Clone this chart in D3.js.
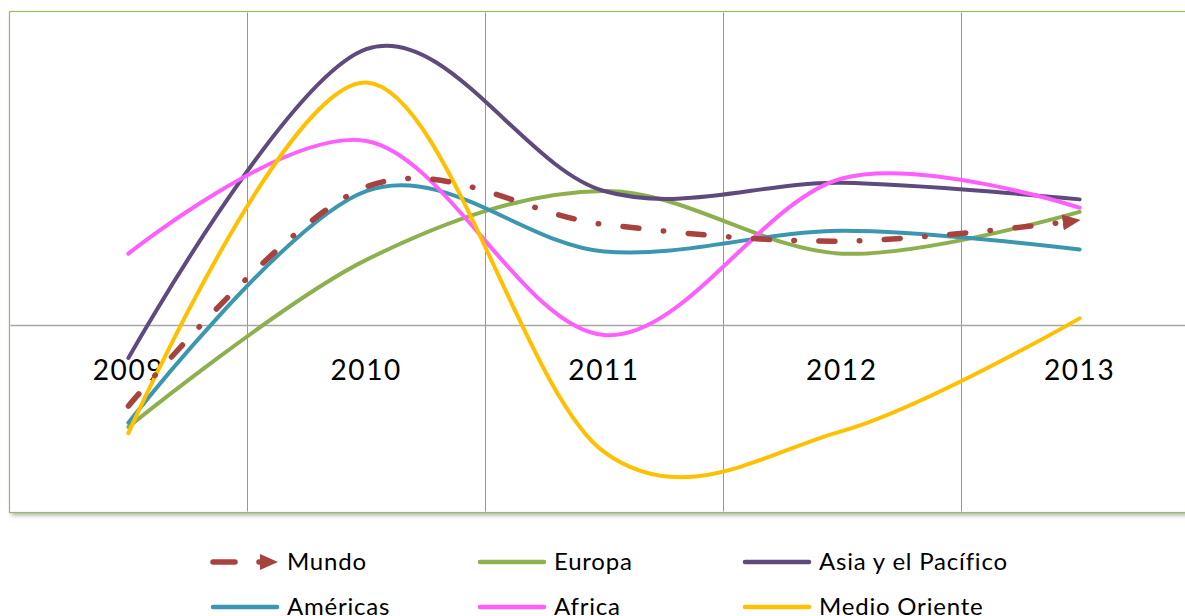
<!DOCTYPE html>
<html>
<head>
<meta charset="utf-8">
<script src="https://cdn.jsdelivr.net/npm/d3@7"></script>
<style>
  body { margin: 0; background: #fff; }
  text { font-family: Lato, "Open Sans", sans-serif; fill: #000; }
</style>
</head>
<body>
<svg id="chart" width="1185" height="616"></svg>
<script>
// categories
const years = ['2009', '2010', '2011', '2012', '2013'];

// series values (growth, %)
const mundo     = [-3.9, 6.6, 4.8, 4.0, 5.0];
const europa    = [-4.9, 3.1, 6.4, 3.4, 5.4];
const asia      = [-1.6, 13.2, 6.4, 6.8, 6.0];
const americas  = [-4.7, 6.4, 3.5, 4.5, 3.6];
const africa    = [3.4, 8.8, -0.5, 7.0, 5.6];
const medio     = [-5.2, 11.6, -6.1, -5.1, 0.3];

const seriesNames = ['Mundo', 'Europa', 'Asia y el Pacífico', 'Américas', 'Africa', 'Medio Oriente'];
const seriesData = [mundo, europa, asia, americas, africa, medio];
const seriesColors = ['#A8423F', '#8DB04F', '#5E4A7C', '#3A97AF', '#FF5EFF', '#FFC000'];

const svg = d3.select('#chart');

const plot = { left: 9.5, right: 1198.5, top: 11.5, bottom: 512.5 };

let x = d3.scaleBand()
    .domain(years)
    .range([plot.left, plot.right]);

let y = d3.scaleLinear()
    .domain([-9, 15])
    .range([plot.bottom, plot.top]);

const cx = d => x(d) + x.bandwidth() / 2;

// shadow for the plot frame
const defs = svg.append('defs');
const shadow = defs.append('filter')
    .attr('id', 'shadow')
    .attr('x', '-5%').attr('y', '-5%')
    .attr('width', '110%').attr('height', '110%');
shadow.append('feGaussianBlur')
    .attr('stdDeviation', 2);

// arrow for the Mundo series
defs.append('marker')
    .attr('id', 'arrow')
    .attr('markerUnits', 'userSpaceOnUse')
    .attr('viewBox', '0 0 18 16')
    .attr('refX', 17).attr('refY', 8)
    .attr('markerWidth', 18).attr('markerHeight', 16)
    .attr('orient', 'auto')
    .append('path')
    .attr('d', 'M0,0 L18,8 L0,16 Z')
    .attr('fill', seriesColors[0]);

// plot area: shadow first, then the frame
svg.append('rect')
    .attr('x', plot.left + 2)
    .attr('y', plot.top + 3)
    .attr('width', plot.right - plot.left)
    .attr('height', plot.bottom - plot.top)
    .attr('fill', '#000')
    .attr('fill-opacity', 0.3)
    .attr('filter', 'url(#shadow)');

svg.append('rect')
    .attr('x', plot.left)
    .attr('y', plot.top)
    .attr('width', plot.right - plot.left)
    .attr('height', plot.bottom - plot.top)
    .attr('fill', '#fff')
    .attr('stroke', '#9BBB59')
    .attr('stroke-width', 1.2);

// vertical gridlines between categories
svg.append('g')
    .selectAll('line')
    .data(years.slice(1))
    .join('line')
    .attr('x1', d => Math.round(x(d)) + 0.5)
    .attr('x2', d => Math.round(x(d)) + 0.5)
    .attr('y1', plot.top + 1)
    .attr('y2', plot.bottom - 1)
    .attr('stroke', '#969696')
    .attr('stroke-width', 1);

// zero line
svg.append('line')
    .attr('x1', plot.left + 1)
    .attr('x2', plot.right)
    .attr('y1', Math.round(y(0)) + 0.5)
    .attr('y2', Math.round(y(0)) + 0.5)
    .attr('stroke', '#A6A6A6')
    .attr('stroke-width', 1.3);

// category labels
const xAxis = svg.append('g')
    .attr('transform', `translate(0,${y(0)})`)
    .call(d3.axisBottom(x).tickSize(0).tickPadding(35));
xAxis.select('.domain').remove();
xAxis.selectAll('text')
    .attr('font-family', 'Lato, sans-serif')
    .attr('font-size', 28)
    .attr('letter-spacing', 1.6)
    .attr('fill', '#000');

// smoothed lines
const line = d3.line()
    .x((d, i) => cx(years[i]))
    .y(d => y(d))
    .curve(d3.curveCardinal.tension(0));

const order = [1, 3, 2, 4, 5, 0];
svg.append('g')
    .selectAll('path')
    .data(order)
    .join('path')
    .attr('d', i => line(seriesData[i]))
    .attr('fill', 'none')
    .attr('stroke', i => seriesColors[i])
    .attr('stroke-width', i => i === 0 ? 5.5 : 4)
    .attr('stroke-linecap', 'round')
    .attr('stroke-dasharray', i => i === 0 ? '16 24.5 0.5 24.5' : null)
    .attr('marker-end', i => i === 0 ? 'url(#arrow)' : null);

// legend
const legendCols = [213, 480, 745];
const legendRows = [562, 607];

const legend = svg.append('g')
    .selectAll('g')
    .data(seriesNames)
    .join('g')
    .attr('transform', (d, i) => `translate(${legendCols[i % 3]},${legendRows[Math.floor(i / 3)]})`);

legend.append('line')
    .attr('x1', 0)
    .attr('x2', 64)
    .attr('y1', 0).attr('y2', 0)
    .attr('stroke', (d, i) => seriesColors[i])
    .attr('stroke-width', (d, i) => i === 0 ? 5.5 : 4.5)
    .attr('stroke-linecap', 'round')
    .attr('stroke-dasharray', (d, i) => i === 0 ? '22 24 0.5 100' : null)
    .attr('marker-end', (d, i) => i === 0 ? 'url(#arrow)' : null);

legend.append('text')
    .attr('x', 74)
    .attr('y', 0)
    .attr('dy', '0.35em')
    .attr('font-size', 24)
    .attr('letter-spacing', 0.8)
    .text(d => d);
</script>
</body>
</html>
